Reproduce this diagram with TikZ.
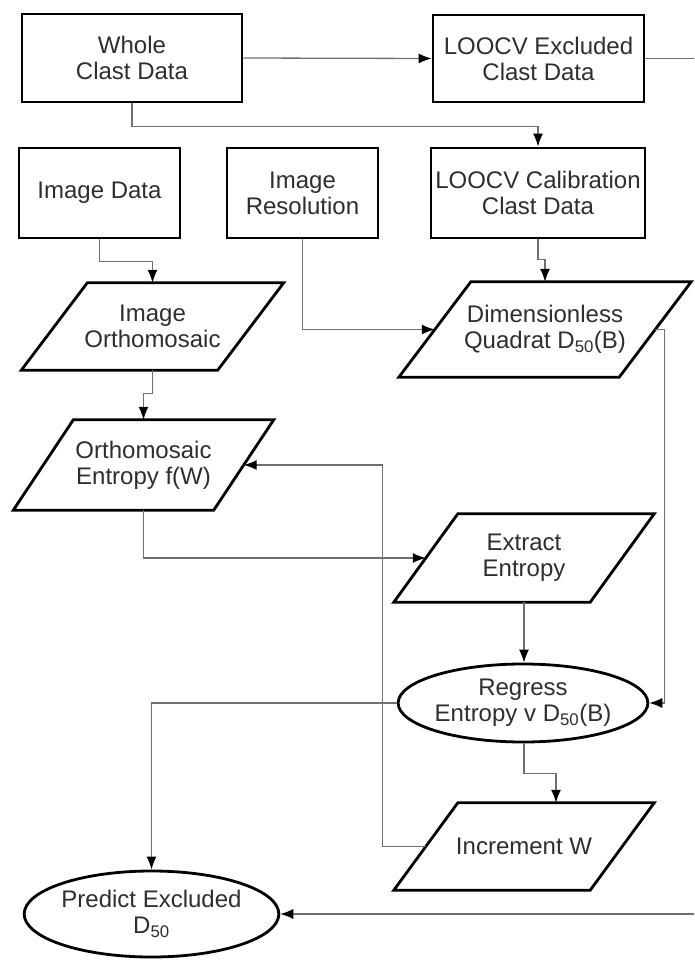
\documentclass[tikz,border=0pt]{standalone}
\usepackage{fontspec}
\setmainfont{Liberation Sans}
\usetikzlibrary{shapes.geometric,arrows.meta,calc}
\definecolor{txt}{HTML}{2E2E2E}
\definecolor{wirecol}{HTML}{707070}
% slanted outline of an input/output step, #2 is half the horizontal lean
\newcommand\drawiobox[2]{%
  \draw[outline] ([xshift=#2]#1.north west) -- ([xshift=#2]#1.north east)
    -- ([xshift=-#2]#1.south east) -- ([xshift=-#2]#1.south west) -- cycle;}
\begin{document}
\begin{tikzpicture}[x=1pt,y=-1pt,
  lbl/.style={align=center, text=txt, inner sep=0pt,
    font=\fontsize{24}{26}\selectfont},
  outline/.style={draw=black, line width=2.8pt, line join=miter},
  box/.style={lbl, rectangle, outline},
  io/.style={lbl, rectangle},
  oval/.style={lbl, ellipse, outline},
  wire/.style={draw=wirecol, line width=1.3pt,
    -{Latex[length=13pt,width=10pt,color=black]}}]
\useasboundingbox (0,0) rectangle (694,960);
\clip (0,0) rectangle (694,960);

% input data boxes
\node[box, minimum width=220pt, minimum height=88pt] (whole) at (132,58) {Whole\\Clast Data};
\node[box, minimum width=211pt, minimum height=87pt] (excl) at (538.5,58.5) {LOOCV Excluded\\Clast Data};
\node[box, minimum width=161pt, minimum height=90pt] (imgdata) at (99.5,193) {Image Data};
\node[box, minimum width=151pt, minimum height=90pt] (imgres) at (302.5,193) {Image\\Resolution};
\node[box, minimum width=214pt, minimum height=90pt] (calib) at (538,193) {LOOCV Calibration\\Clast Data};

% processing steps
\node[io, minimum width=196pt, minimum height=87pt] (ortho) at (152.5,326.5) {Image\\Orthomosaic};
\node[io, minimum width=220pt, minimum height=95pt] (quad) at (545,329.5) {Dimensionless\\Quadrat D\textsubscript{50}(B)};
\node[io, minimum width=200pt, minimum height=90pt] (orthent) at (143.5,465) {Orthomosaic\\Entropy f(W)};
\node[io, minimum width=196pt, minimum height=88pt] (extract) at (524,558) {Extract\\Entropy};
\node[oval, minimum width=233pt, minimum height=78pt] (regress) at (523,703) {Regress\\Entropy v D\textsubscript{50}(B)};
\node[io, minimum width=196pt, minimum height=87pt] (incr) at (524,846.5) {Increment W};
\node[oval, minimum width=231pt, minimum height=86pt] (predict) at (151.5,914) {Predict Excluded\\D\textsubscript{50}};

\drawiobox{ortho}{33pt}
\drawiobox{quad}{36pt}
\drawiobox{orthent}{30pt}
\drawiobox{extract}{32pt}
\drawiobox{incr}{32pt}

% connectors
\draw[wire] (whole.east) -- (excl.west);
\draw[wire] (excl.east) -- ++(70,0) |- (predict.east);
\draw[wire] (whole.south) -- ++(0,23) -| (calib.north);
\draw[wire] (imgdata.south) -- ++(0,22) -| (ortho.north);
\draw[wire] (imgres.south) |- (quad.west);
\draw[wire] (calib.south) -- ++(0,20) -| (quad.north);
\draw[wire] (quad.east) -- ++(9,0) |- (regress.east);
\draw[wire] (ortho.south) -- ++(0,23) -| (orthent.north);
\draw[wire] (orthent.south) |- (extract.west);
\draw[wire] (extract.south) -- (extract.south |- regress.north);
\draw[wire] (regress.west) -| (predict.north);
\draw[wire] (regress.south -| extract.south) -- ++(0,30) -| ([xshift=32pt]incr.north);
\draw[wire] (incr.west) -- ++(-43,0) |- (orthent.east);
\end{tikzpicture}
\end{document}
